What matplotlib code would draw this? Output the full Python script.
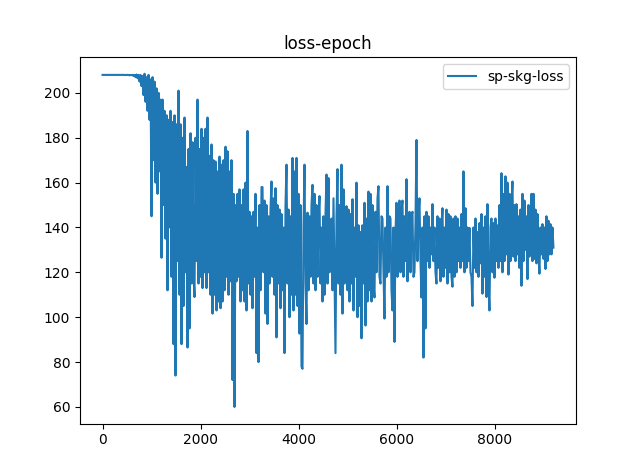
import numpy as np
import matplotlib
matplotlib.use("Agg")
import matplotlib.pyplot as plt

# loss values, roughly one value every ~20 epochs
loss = [
    208, 208, 208, 208, 208, 208, 208, 208, 208, 208,
    208, 208, 208, 208, 208, 208, 208, 208, 208, 208,
    208, 208, 208, 207.9, 208, 208, 208, 207.8, 208, 207.9,
    208, 207.5, 208, 207, 208.2, 206.5, 208, 205, 208, 203,
    207.5, 199, 208.5, 196, 207, 192, 208, 188, 206, 145,
    207, 170, 205, 160, 202, 155, 200, 165, 197, 126.5,
    197, 150, 192, 135, 190, 112, 188, 140, 192, 118,
    187, 88, 190, 74, 186, 125, 201, 110, 186, 88,
    180, 105, 189, 120, 167, 86.5, 175, 95, 182, 115,
    178, 118, 109, 180, 125, 197, 115, 175, 118, 184,
    113, 180, 120, 184, 113, 189, 120, 172, 110, 177,
    101.6, 170, 110, 169.4, 103, 165, 107, 171.6, 104, 168,
    107, 170, 112, 176, 118, 174, 110, 165, 116, 170,
    72, 155, 60, 150, 116, 155, 118, 157, 107, 150,
    112, 157, 107, 160, 103, 183, 115, 147, 110, 145,
    104, 147, 118, 155, 84, 140, 80, 150, 112, 158,
    158, 120, 152, 101.6, 150, 97, 145, 115, 148, 160.5,
    118, 153, 110, 157.5, 91, 150, 115, 148, 104, 146,
    112, 140, 84, 150, 168, 115, 148, 100, 145, 110,
    171, 103, 165, 110, 171, 105, 155, 92.7, 150, 78,
    77, 140, 168, 115, 97, 146.6, 112, 145, 118, 150,
    159, 115, 155, 112, 150, 118, 145, 154, 115, 140,
    107, 145, 110, 146, 163.6, 115, 162, 120, 140, 144,
    112, 153, 118, 84, 145, 166, 115, 150, 110, 168,
    101.6, 157, 115, 140, 149.5, 112, 148, 107, 146, 115,
    152.6, 103, 140, 118, 160, 100, 141, 105, 138, 90.6,
    141, 115, 151, 96.3, 144, 107, 156, 112, 155, 107,
    150, 115, 108.8, 147, 120, 153, 158.4, 118, 115, 145,
    144, 120, 99.4, 140, 118, 158.4, 120, 145, 144, 112,
    103, 140, 89, 138, 151, 118, 145, 152, 120, 148,
    152, 118, 145, 125, 161.5, 116, 140, 147, 120, 145,
    147, 118, 120, 142, 179, 125, 145, 153, 125, 108.8,
    140, 82, 145, 95, 147, 125, 145, 122, 140, 128,
    150.4, 125, 140, 120, 115, 145, 122, 144, 116, 140,
    148.6, 118, 140, 122, 148, 115, 146, 120, 145, 118,
    113.6, 144, 118, 145, 120, 144, 125, 140, 122, 146,
    125, 165, 120, 148.6, 122, 140, 125, 139.8, 120, 118,
    105, 140, 122, 144, 120, 138, 118, 142, 124, 146,
    110.5, 140, 118, 145, 109, 150.4, 115, 103, 140, 144,
    120, 142, 117.6, 144, 125, 141, 122, 150, 125, 164.2,
    120, 155, 125, 162.8, 128, 160, 119, 155, 125, 150,
    160.5, 127, 150, 125, 150.4, 128, 145, 122, 148, 114,
    155, 125, 152, 130, 145, 117, 150, 127, 145, 155,
    125, 155, 126, 148, 124, 146, 128, 119.4, 140, 128,
    141.5, 126, 140, 121.5, 145, 125, 143, 128, 141.5, 128,
    140, 131,
]
last_epoch = 9200
epochs = np.linspace(0, last_epoch, len(loss))

fig = plt.figure(figsize=(6.4, 4.76), dpi=100)
plt.title("loss-epoch")
plt.plot(epochs, loss, label="sp-skg-loss")
plt.legend()
plt.savefig("out.png")
